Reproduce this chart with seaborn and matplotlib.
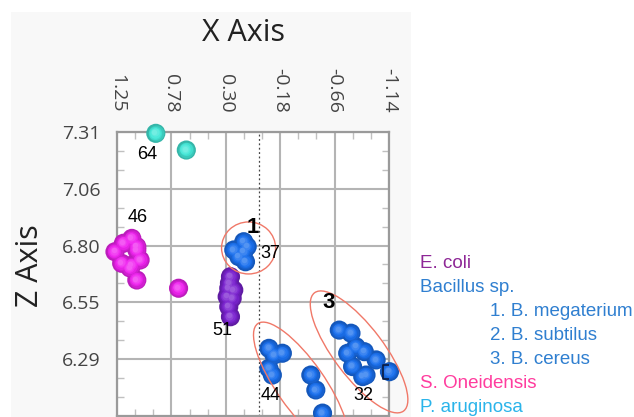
import numpy as np
import pandas as pd
import matplotlib
matplotlib.use('Agg')
import matplotlib.pyplot as plt
import matplotlib.transforms as mtransforms
from matplotlib.patches import Ellipse, Rectangle
from matplotlib.ticker import AutoMinorLocator
from matplotlib.colors import to_rgb
import seaborn as sns

# values (x = X Axis, z = Z Axis)
ecoli_x = [0.253, 0.262, 0.268, 0.224, 0.282, 0.238, 0.268, 0.253]
ecoli_z = [6.660, 6.631, 6.608, 6.600, 6.570, 6.563, 6.525, 6.480]

bacillus_x = [0.136, 0.224, 0.136, 0.180, 0.121, 0.106,            # 1. B. megaterium
              -0.085, -0.203, -0.129, -0.085, -0.115, -0.453, -0.497, -0.556,   # 2. B. subtilus
              -0.703, -0.806, -0.850, -0.777, -0.923, -1.027, -0.820, -0.938, -0.909, -1.144]  # 3. B. cereus
bacillus_z = [6.817, 6.780, 6.772, 6.750, 6.727, 6.795,
              6.338, 6.316, 6.308, 6.248, 6.218, 6.218, 6.151, 6.047,
              6.420, 6.406, 6.345, 6.316, 6.323, 6.286, 6.256, 6.218, 6.211, 6.233]
selected = len(bacillus_x) - 1  # point with the square cursor

oneid_x = [1.120, 1.194, 1.076, 1.268, 1.076, 1.209, 1.120, 1.047, 1.135, 1.076, 0.709]
oneid_z = [6.832, 6.810, 6.795, 6.772, 6.780, 6.720, 6.712, 6.735, 6.699, 6.645, 6.608]

aerug_x = [0.909, 0.641]
aerug_z = [7.304, 7.229]

x_ticks = np.linspace(1.25, -1.14, 6)
x_labels = ['1.25', '0.78', '0.30', '-0.18', '-0.66', '-1.14']
z_ticks = np.linspace(7.31, 6.29, 5)
z_labels = ['7.31', '7.06', '6.80', '6.55', '6.29']

# point labels and cluster numbers (x, z, text)
point_labels = [(0.985, 7.207, '64'), (1.065, 6.928, '46'), (0.323, 6.420, '51'),
                (-0.100, 6.766, '37'), (-0.100, 6.128, '44'), (-0.912, 6.128, '32')]
cluster_labels = [(0.059, 6.879, '1'), (-0.612, 6.546, '3')]
# cluster rings: centre (x, z), width/height in inches, angle
rings = [(0.094, 6.789, 0.54, 0.52, 0), (-0.365, 6.173, 1.50, 0.48, -55),
         (-0.877, 6.322, 1.48, 0.50, -53)]

legend_labels = ['E. coli', 'Bacillus sp.', '1. B. megaterium', '2. B. subtilus',
                 '3. B. cereus', 'S. Oneidensis', 'P. aruginosa']
legend_colors = ['#8e2796', '#2f7fd0', '#2f7fd0', '#2f7fd0', '#2f7fd0', '#ff3c9e', '#2ab4ea']
legend_indent = [0, 0, 1, 1, 1, 0, 0]

palette = {'S. Oneidensis': '#f024f0', 'E. coli': '#7a22d0',
           'Bacillus sp.': '#1a70ee', 'P. aruginosa': '#44e8d8'}

df = pd.concat([
    pd.DataFrame({'x': oneid_x, 'z': oneid_z, 'species': 'S. Oneidensis'}),
    pd.DataFrame({'x': ecoli_x, 'z': ecoli_z, 'species': 'E. coli'}),
    pd.DataFrame({'x': bacillus_x, 'z': bacillus_z, 'species': 'Bacillus sp.'}),
    pd.DataFrame({'x': aerug_x, 'z': aerug_z, 'species': 'P. aruginosa'}),
], ignore_index=True)

sns.set_style('white')
plt.rcParams['font.family'] = ['Open Sans', 'DejaVu Sans']

fig = plt.figure(figsize=(6.34, 4.17), dpi=100)
fig.patches.append(Rectangle((11 / 634, 0), 400 / 634, 405 / 417, transform=fig.transFigure,
                             facecolor='#f8f8f8', edgecolor='none', zorder=-10))
ax = fig.add_axes([117 / 634, 1 / 417, 272 / 634, 284 / 417])
ax.set_facecolor('#ffffff')

size = 190
# rim of each sphere
shade = {k: tuple(np.array(to_rgb(c)) * 0.78) for k, c in palette.items()}
sns.scatterplot(data=df, x='x', y='z', hue='species', palette=shade, s=size,
                linewidth=0, legend=False, ax=ax, zorder=3, clip_on=False)
# shading layers toward an upper-left highlight
for i in range(1, 6):
    f = i / 5
    off = mtransforms.offset_copy(ax.transData, fig=fig, x=-1.0 * f, y=1.0 * f, units='points')
    for sp, grp in df.groupby('species'):
        base = np.array(to_rgb(palette[sp]))
        if f < 0.5:
            col = base * (0.78 + 0.44 * f)
        else:
            col = base + (1 - base) * (f - 0.5) * 0.5
        ax.scatter(grp['x'], grp['z'], s=size * (1 - 0.7 * f) ** 2 * 0.92, color=np.clip(col, 0, 1),
                   linewidth=0, transform=off, zorder=3 + i * 0.1, clip_on=False)

ax.scatter(bacillus_x[selected], bacillus_z[selected], marker='s', s=100, facecolor='none',
           edgecolor='#0a1a40', linewidth=1.2, zorder=4)

for cx, cz, w, h, ang in rings:
    tr = fig.dpi_scale_trans + mtransforms.ScaledTranslation(cx, cz, ax.transData)
    ax.add_patch(Ellipse((0, 0), w, h, angle=ang, transform=tr, fill=False,
                         edgecolor='#f07868', linewidth=1.0, clip_on=False, zorder=5))

for px, pz, t in point_labels:
    ax.text(px, pz, t, ha='center', va='center', fontsize=13, color='black',
            family=['Liberation Sans'], zorder=6)
for px, pz, t in cluster_labels:
    ax.text(px, pz, t, ha='center', va='center', fontsize=16, fontweight='bold',
            color='black', family=['Liberation Sans'], zorder=6)

ax.axvline(0, color='#444444', linestyle=(0, (1.5, 2)), linewidth=0.9, zorder=2)

ax.set_xlim(1.25, -1.14)
ax.set_ylim(6.034, 7.31)
ax.xaxis.tick_top()
ax.set_xticks(x_ticks, labels=x_labels, rotation=-90)
ax.set_yticks(z_ticks, labels=z_labels)
ax.xaxis.set_minor_locator(AutoMinorLocator(3))
ax.yaxis.set_minor_locator(AutoMinorLocator(3))
ax.tick_params(axis='both', which='major', length=0, labelsize=14, labelcolor='#444444')
ax.tick_params(axis='x', which='major', pad=14)
ax.tick_params(axis='y', which='major', pad=12)
ax.tick_params(which='minor', direction='in', length=5, width=1, color='#c0c0c0',
               top=True, bottom=True, left=True, right=True)
ax.grid(True, which='major', color='#b4b4b4', linewidth=1.5)
ax.set_axisbelow(True)
for s in ax.spines.values():
    s.set_color('#9a9a9a')
    s.set_linewidth(1.6)
ax.set_xlabel('')
ax.set_ylabel('')

fig.text(243 / 634, 1 - 33 / 417, 'X Axis', ha='center', va='center', fontsize=22, color='#222222')
fig.text(30 / 634, 1 - 266 / 417, 'Z Axis', ha='center', va='center', rotation=90,
         fontsize=22, color='#222222')

for i, (lab, col, ind) in enumerate(zip(legend_labels, legend_colors, legend_indent)):
    fig.text((420 + 70 * ind) / 634, 1 - (263 + 24 * i) / 417, lab, ha='left', va='center',
             fontsize=13.5, color=col, family=['Liberation Sans'])

fig.savefig('out.png', dpi=100, facecolor='white')
